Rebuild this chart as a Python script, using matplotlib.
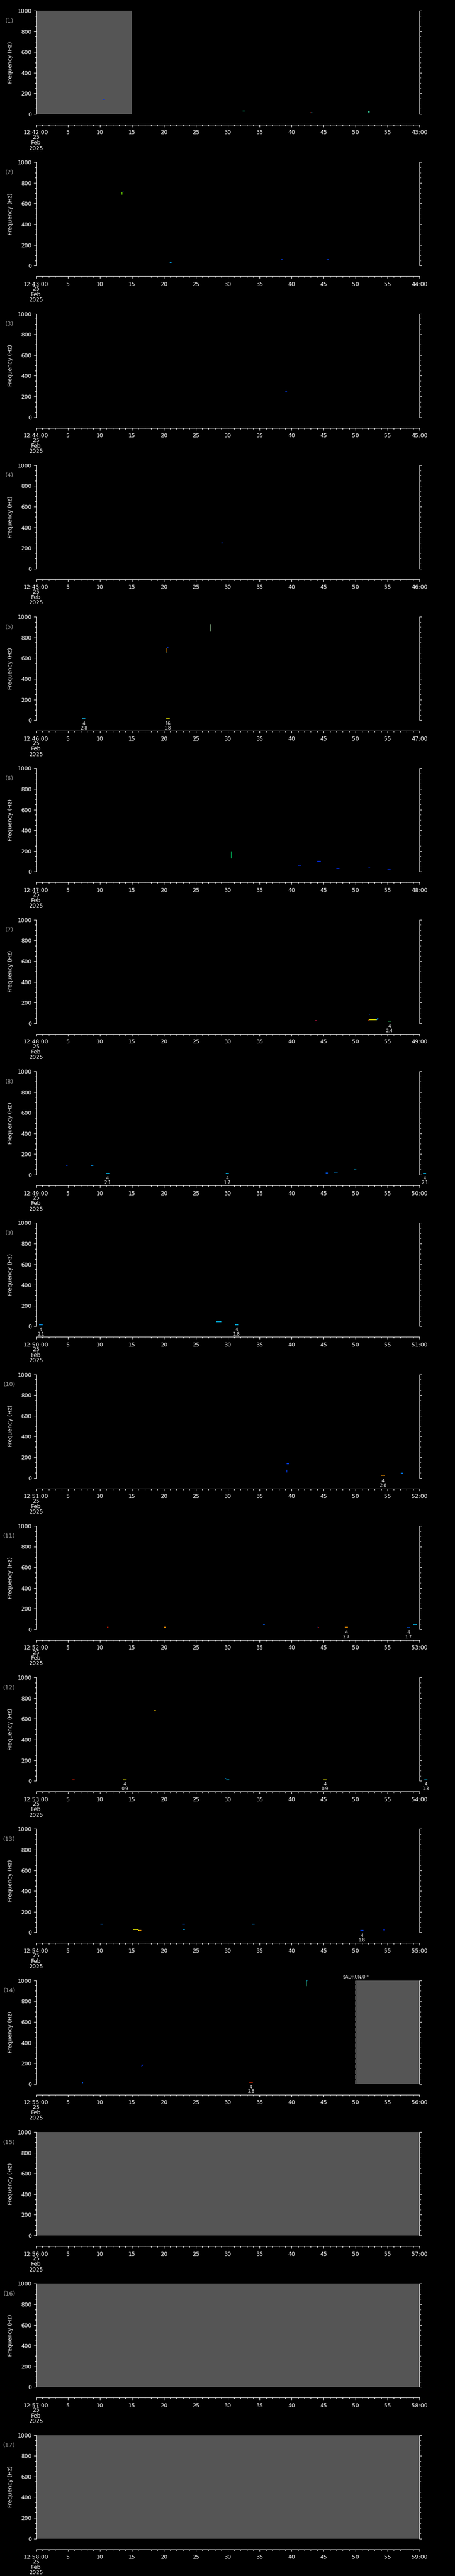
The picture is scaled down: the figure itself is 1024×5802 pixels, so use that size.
import matplotlib
matplotlib.use('Agg')
import matplotlib.pyplot as plt
from matplotlib.ticker import MultipleLocator, FixedLocator

plt.rcParams['font.family'] = ['DejaVu Sans']

# ---------------- data ----------------
panel_minutes = list(range(42, 59))          # panel k starts at 12:MM:00
date_lines = "25\nFeb\n2025"

# missing-data (grey) spans
gap_panel = [1, 14, 15, 16, 17]
gap_t0 = [0, 50, 0, 0, 0]
gap_t1 = [15, 60, 60, 60, 60]

# dashed boundary + marker text
dash_panel = [14]
dash_t = [50]
note_panel = [14]
note_t = [48.0]
note_text = ["$ADRUN,0,*"]

# spectrogram specks: panel, t0, t1, f0, f1, colour
speck_panel = [1, 1, 1, 1, 1, 1,
               2, 2, 2, 2, 2,
               3, 4,
               5, 5, 5, 5, 5,
               6, 6, 6, 6, 6, 6,
               7, 7, 7, 7, 7, 7,
               8, 8, 8, 8, 8,
               9,
               10, 10, 10, 10,
               11, 11, 11, 11, 11, 11,
               12, 12, 12, 12,
               13, 13, 13, 13, 13, 13, 13, 13,
               14, 14, 14, 14]
speck_t0 = [10.4, 10.5, 42.9, 43.05, 51.95, 32.3,
            13.45, 13.55, 20.9, 38.3, 45.5,
            39.0, 29.0,
            20.45, 20.5, 20.45, 27.3, 7.3,
            30.5, 41.0, 44.0, 47.0, 52.0, 55.0,
            43.7, 52.0, 52.1, 53.3, 52.1, 53.5,
            4.7, 8.55, 45.3, 46.6, 49.8,
            28.2,
            39.2, 39.2, 57.1, 39.3,
            11.1, 20.0, 35.5, 44.05, 59.0, 44.05,
            5.67, 18.4, 29.6, 29.75,
            10.1, 15.2, 16.0, 22.9, 23.0, 33.8, 54.3, 15.9,
            7.2, 16.5, 42.3, 42.35]
speck_t1 = [10.5, 10.75, 43.05, 43.25, 52.2, 32.7,
            13.45, 13.7, 21.2, 38.6, 45.8,
            39.3, 29.3,
            20.45, 20.7, 20.5, 27.3, 7.45,
            30.5, 41.5, 44.6, 47.5, 52.3, 55.5,
            43.9, 52.1, 53.3, 53.5, 52.2, 53.6,
            4.95, 8.95, 45.7, 47.2, 50.1,
            29.0,
            39.6, 39.2, 57.4, 39.5,
            11.35, 20.3, 35.8, 44.3, 59.6, 44.15,
            6.04, 18.75, 29.75, 30.25,
            10.45, 16.0, 16.5, 23.3, 23.3, 34.2, 54.55, 16.1,
            7.35, 16.8, 42.3, 42.5]
speck_f0 = [142, 142, 13, 13, 21, 32,
            690, 713, 30, 55, 55,
            250, 250,
            655, 701, 658, 860, 15,
            130, 60, 100, 30, 45, 20,
            23, 28, 32, 32, 83, 49,
            89, 89, 16, 24, 46,
            43,
            135, 54, 44, 135,
            20, 20, 45, 15, 45, 20,
            18, 679, 21, 17,
            78, 28, 18, 78, 28, 78, 22, 28,
            13, 171, 948, 1000]
speck_f1 = [142, 142, 13, 13, 21, 32,
            715, 713, 30, 55, 55,
            250, 250,
            701, 701, 658, 930, 15,
            200, 60, 100, 30, 45, 20,
            23, 28, 32, 49, 83, 49,
            89, 89, 16, 24, 46,
            43,
            135, 78, 44, 135,
            20, 20, 45, 15, 45, 20,
            18, 679, 21, 17,
            78, 28, 18, 78, 28, 78, 22, 18,
            13, 188, 1000, 1000]
speck_color = ['#00c8ff', '#0030ff', '#ff2000', '#00d0ff', '#40ffc0', '#00c080',
               '#80ff00', '#0030ff', '#00b0ff', '#0040ff', '#0040ff',
               '#0040ff', '#0040ff',
               '#ff9900', '#0040ff', '#00d0ff', '#c0ffc0', '#ff3000',
               '#00c060', '#0030ff', '#0030ff', '#0030ff', '#0030ff', '#0030ff',
               '#ff2060', '#ff4000', '#ffff00', '#00a0ff', '#0060ff', '#0060ff',
               '#0040ff', '#00a0ff', '#0060ff', '#00a0ff', '#00c8ff',
               '#00c8ff',
               '#0040ff', '#0040ff', '#0080ff', '#0040ff',
               '#ff2000', '#ff9900', '#0060ff', '#ff2000', '#00c8ff', '#0040ff',
               '#ff2000', '#ffcc00', '#00a0ff', '#00d0ff',
               '#0080ff', '#ffff00', '#ff9900', '#0060ff', '#00b0ff', '#00a0ff', '#0020c0', '#ffff00',
               '#0060ff', '#0030ff', '#40ffc0', '#00c8ff']

# detected events: panel, time (s), freq (Hz), colour, class, value
event_panel = [5, 5, 7, 8, 8, 8, 9, 9, 10, 11, 11, 12, 12, 12, 13, 14]
event_time = [7.5, 20.65, 55.3, 11.2, 29.95, 60.8, 0.77, 31.4, 54.3,
              48.55, 58.3, 13.9, 45.2, 61.0, 51.0, 33.65]
event_freq = [15, 15, 22, 12, 12, 12, 15, 15, 22, 20, 15, 16, 16, 16, 18, 17]
event_color = ['#00c8ff', '#ffff00', '#40ff80', '#00c8ff', '#00c8ff', '#00c8ff',
               '#00a0ff', '#00c8ff', '#ff9900', '#ff9900', '#0060ff',
               '#ffff00', '#ffff00', '#00c8ff', '#0040ff', '#ff3000']
event_class = ['4', '16', '4', '4', '4', '4', '4', '4', '4', '4', '4', '4', '4', '4', '4', '4']
event_value = ['2.8', '1.8', '2.4', '2.1', '1.7', '2.1', '2.1', '1.8', '2.8',
               '2.7', '1.7', '0.9', '0.9', '1.3', '1.8', '2.8']

# ---------------- layout ----------------
W, H, DPI = 1024, 5802, 100
PX = 72.0 / DPI                 # points per pixel
left_px, right_px = 81, 944
top0_px, plot_h_px, step_px = 24, 233, 341.29
grey = '#555555'

fig = plt.figure(figsize=(W / DPI, H / DPI), dpi=DPI, facecolor='black')

axes = []
for k, minute in enumerate(panel_minutes):
    top = top0_px + k * step_px
    ax = fig.add_axes([left_px / W, 1 - (top + plot_h_px) / H,
                       (right_px - left_px) / W, plot_h_px / H])
    ax.set_facecolor('black')
    ax.set_xlim(0, 60)
    ax.set_ylim(0, 1000)
    ax.spines['top'].set_visible(False)
    for s in ('left', 'right', 'bottom'):
        ax.spines[s].set_color('white')
        ax.spines[s].set_linewidth(0.8)
    ax.spines['bottom'].set_position(('outward', 24 * PX))

    ax.xaxis.set_major_locator(FixedLocator(list(range(0, 61, 5))))
    ax.xaxis.set_minor_locator(MultipleLocator(1))
    labels = ['12:%02d:00' % minute] + [str(v) for v in range(5, 60, 5)] + ['%02d:00' % (minute + 1)]
    ax.set_xticklabels(labels)
    ax.yaxis.set_major_locator(MultipleLocator(200))
    ax.yaxis.set_minor_locator(MultipleLocator(50))

    ax.tick_params(axis='x', which='major', direction='out', length=5 * PX, width=0.8,
                   colors='white', labelsize=9, pad=6.5 * PX)
    ax.tick_params(axis='x', which='minor', direction='out', length=3 * PX, width=0.8, colors='white')
    ax.tick_params(axis='y', which='major', left=True, right=True, direction='out',
                   length=4.7 * PX, width=0.8, colors='white', labelsize=9, pad=5 * PX)
    ax.tick_params(axis='y', which='minor', left=True, right=True, direction='out',
                   length=3 * PX, width=0.8, colors='white')

    w = right_px - left_px
    ax.text((21 - left_px) / w, 1 - 23 / plot_h_px, '(%d)' % (k + 1), color='#a0a0a0',
            fontsize=9.5, ha='center', va='center', transform=ax.transAxes)
    ax.text((23.5 - left_px) / w, 0.5, 'Frequency (Hz)', color='white', fontsize=9,
            rotation=90, ha='center', va='center', transform=ax.transAxes)
    ax.text(0, -(303 - 257) / plot_h_px, date_lines, color='white', fontsize=9,
            ha='center', va='top', linespacing=0.93, transform=ax.transAxes)
    axes.append(ax)

for p, t0, t1 in zip(gap_panel, gap_t0, gap_t1):
    axes[p - 1].axvspan(t0, t1, color=grey, lw=0, zorder=1)

for p, t in zip(dash_panel, dash_t):
    axes[p - 1].axvline(t, color='white', lw=0.9, ls=(0, (7, 2.5)), zorder=3)

for p, t, s in zip(note_panel, note_t, note_text):
    ax = axes[p - 1]
    ax.text(t, 1012, s, color='white', fontsize=7, ha='left', va='bottom',
            parse_math=False, clip_on=False)

for p, t0, t1, f0, f1, c in zip(speck_panel, speck_t0, speck_t1, speck_f0, speck_f1, speck_color):
    ax = axes[p - 1]
    lw = 1.0 if t0 == t1 else 1.2
    ax.plot([t0, t1], [f0, f1], color=c, lw=lw, solid_capstyle='butt', zorder=4)

for p, t, f, c, cl, v in zip(event_panel, event_time, event_freq, event_color, event_class, event_value):
    ax = axes[p - 1]
    ax.plot([t - 0.25, t + 0.25], [f, f], color=c, lw=1.2, solid_capstyle='butt',
            zorder=4, clip_on=False)
    ax.text(t, -2.5 / plot_h_px, cl + '\n' + v, color='white', fontsize=7, ha='center',
            va='top', linespacing=1.0, transform=ax.get_xaxis_transform())

fig.savefig('out.png', dpi=DPI, facecolor='black')
